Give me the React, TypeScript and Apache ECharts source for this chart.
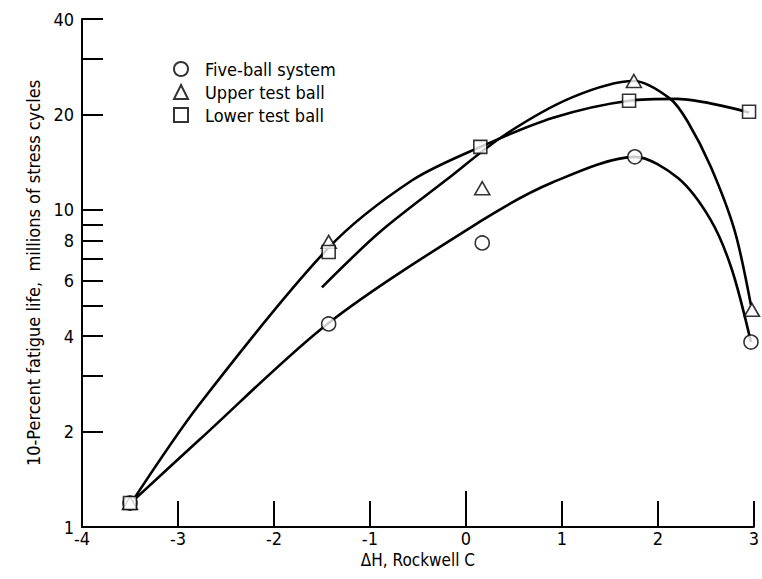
import React, { useEffect, useRef } from "react";
import * as echarts from "echarts";

// Axis ticks
const yTickValues = [1, 2, 3, 4, 5, 6, 7, 8, 9, 10, 20, 30, 40];
const yLabelValues = [1, 2, 4, 6, 8, 10, 20, 40];
const xLongTick = [0];

// Measured points
const fiveBallX = [-3.5, -1.43, 0.17, 1.76, 2.97];
const fiveBallY = [1.19, 4.37, 7.87, 14.7, 3.83];
const upperX = [-3.5, -1.43, 0.17, 1.75, 2.98];
const upperY = [1.19, 7.93, 11.7, 25.5, 4.84];
const lowerX = [-3.5, -1.43, 0.15, 1.7, 2.95];
const lowerY = [1.19, 7.37, 15.8, 22.1, 20.4];

// Faired curves
const fiveCurveX = [-3.48, -2.78, -1.43, 0.15, 0.9, 1.76, 2.21, 2.55, 2.77, 2.97];
const fiveCurveY = [1.2, 1.88, 4.4, 9.2, 12.2, 14.7, 12.6, 9.3, 6.5, 3.83];
const upperCurveX = [-1.5, -0.9, -0.21, 0.4, 1.1, 1.75, 2.13, 2.31, 2.55, 2.8, 2.97];
const upperCurveY = [5.7, 8.5, 12.4, 17.2, 22.6, 25.5, 22.4, 19.0, 13.7, 8.6, 5.0];
const lowerCurveX = [-3.48, -2.78, -1.43, -0.56, 0.15, 0.9, 1.7, 2.2, 2.95];
const lowerCurveY = [1.2, 2.43, 7.6, 12.4, 15.8, 19.5, 22.1, 22.4, 20.3];

const seriesNames = ["Five-ball system", "Upper test ball", "Lower test ball"];

const FONT = "'Liberation Sans Narrow', 'DejaVu Sans Condensed', 'Liberation Sans', sans-serif";

const zip = (xs: number[], ys: number[]) => xs.map((x, i) => [x, ys[i]]);

export default function App() {
  const ref = useRef<HTMLDivElement>(null);
  useEffect(() => {
    if (!ref.current) return;
    const chart = echarts.init(ref.current, undefined, { renderer: "svg" });
    const curveStyle = { color: "#000", width: 2.6 };
    const markerStyle = { color: "#fff", borderColor: "#000", borderWidth: 1.6 };
    const mkCurve = (name: string, xs: number[], ys: number[]) => ({
      type: "line",
      name,
      data: zip(xs, ys),
      smooth: 0.3,
      symbol: "none",
      lineStyle: curveStyle,
      z: 2,
      silent: true,
    });
    chart.setOption({
      animation: false,
      backgroundColor: "#fff",
      textStyle: { fontFamily: FONT, color: "#000" },
      grid: { left: 82, right: 6, top: 19, bottom: 52, containLabel: false },
      legend: {
        data: seriesNames,
        orient: "vertical",
        left: 168,
        top: 55,
        itemWidth: 14,
        itemHeight: 14,
        itemGap: 5,
        textStyle: { fontFamily: FONT, fontSize: 18, color: "#000", padding: [0, 0, 0, 12] },
      },
      xAxis: [
        {
          type: "value",
          min: -4,
          max: 3,
          interval: 1,
          name: "\u0394H, Rockwell C",
          nameLocation: "middle",
          nameGap: 9,
          nameTextStyle: { fontFamily: FONT, fontSize: 17, color: "#000" },
          axisLine: { show: true, onZero: false, lineStyle: { color: "#000", width: 2 } },
          axisTick: { show: true, inside: true, length: 26, lineStyle: { color: "#000", width: 2 } },
          axisLabel: { show: true, margin: 2, fontFamily: FONT, fontSize: 18, color: "#000", showMinLabel: true, showMaxLabel: true },
          splitLine: { show: false },
        },
        {
          type: "value",
          min: -4,
          max: 3,
          interval: 1,
          position: "bottom",
          axisLine: { show: false, onZero: false },
          axisTick: { show: true, inside: true, length: 36, customValues: xLongTick, lineStyle: { color: "#000", width: 2 } },
          axisLabel: { show: false },
          splitLine: { show: false },
        },
      ],
      yAxis: {
        type: "log",
        logBase: 10,
        min: 1,
        max: 40,
        name: "10-Percent fatigue life,  millions of stress cycles",
        nameLocation: "middle",
        nameGap: 40,
        nameRotate: 90,
        nameTextStyle: { fontFamily: FONT, fontSize: 18, color: "#000" },
        axisLine: { show: true, onZero: false, lineStyle: { color: "#000", width: 2 } },
        axisTick: { show: true, inside: true, length: 21, customValues: yTickValues, lineStyle: { color: "#000", width: 2 } },
        axisLabel: {
          show: true,
          margin: 8,
          customValues: yLabelValues,
          fontFamily: FONT,
          fontSize: 18,
          color: "#000",
          formatter: (v: number) => String(Math.round(v)),
        },
        splitLine: { show: false },
        minorTick: { show: false },
      },
      series: [
        mkCurve("curve-five", fiveCurveX, fiveCurveY),
        mkCurve("curve-upper", upperCurveX, upperCurveY),
        mkCurve("curve-lower", lowerCurveX, lowerCurveY),
        {
          type: "scatter",
          name: seriesNames[0],
          data: zip(fiveBallX, fiveBallY),
          symbol: "circle",
          symbolSize: 14,
          itemStyle: markerStyle,
          z: 3,
        },
        {
          type: "scatter",
          name: seriesNames[1],
          data: zip(upperX, upperY),
          symbol: "triangle",
          symbolSize: [15, 13],
          itemStyle: markerStyle,
          z: 4,
        },
        {
          type: "scatter",
          name: seriesNames[2],
          data: zip(lowerX, lowerY),
          symbol: "rect",
          symbolSize: 13,
          itemStyle: markerStyle,
          z: 5,
        },
      ],
    });
    return () => chart.dispose();
  }, []);
  return (
    <div
      ref={ref}
      style={{ position: "fixed", left: 0, top: 0, width: 762, height: 579, background: "#fff" }}
    />
  );
}
